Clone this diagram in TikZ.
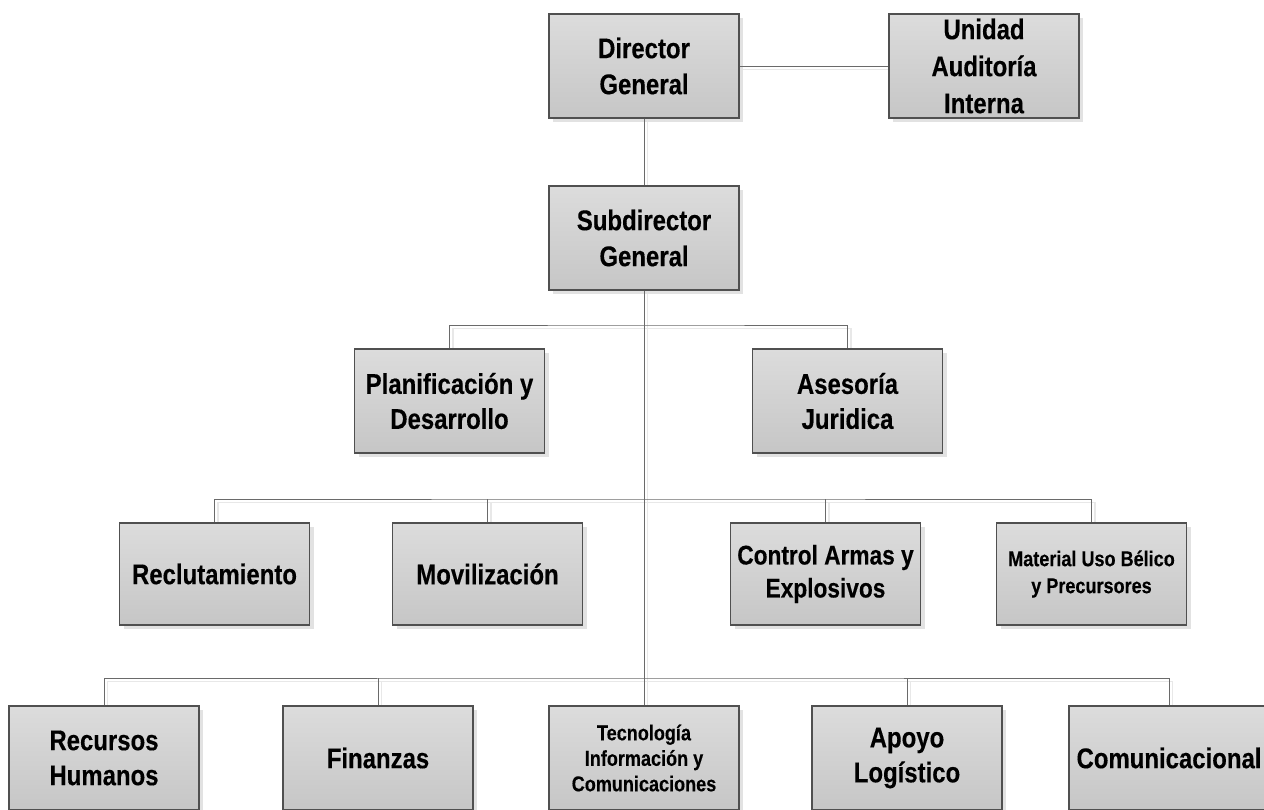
\documentclass[tikz,border=0pt]{standalone}
\usepackage{fontspec}
\setmainfont{Liberation Sans}[FakeStretch=0.84, BoldFeatures={FakeBold=0.3}]
\usetikzlibrary{shadows,backgrounds}
\definecolor{boxline}{HTML}{505050}
\definecolor{boxtop}{HTML}{DCDCDC}
\definecolor{boxbot}{HTML}{C6C6C6}
\definecolor{shadowc}{HTML}{E2E2E2}
\definecolor{connc}{HTML}{6A6A6A}
\definecolor{connsh}{HTML}{E8E8E8}
\tikzset{
  box/.style={draw=boxline, line width=1.1pt, top color=boxtop, bottom color=boxbot,
    minimum width=190pt, minimum height=104pt, inner sep=0pt, align=center,
    font=\bfseries\fontsize{28.5}{36}\selectfont,
    drop shadow={shadow xshift=4pt, shadow yshift=-4pt, fill=shadowc, opacity=1}},
  boxlow/.style={box, minimum height=102pt},
  conn/.style={draw=connc, line width=1pt},
  connshadow/.style={draw=connsh, line width=1.5pt, transform canvas={shift={(3.5pt,-3.5pt)}}}
}
\begin{document}
\begin{tikzpicture}[x=1pt,y=-1pt]
\useasboundingbox (0,0) rectangle (1264,809);
\clip (0,0) rectangle (1264,809);
% boxes
\node[box] (dir) at (644,66) {Director\\General};
\node[box, font=\bfseries\fontsize{28.5}{37}\selectfont] (aud) at (984,66) {Unidad\\Auditoría\\Interna};
\node[box] (sub) at (644,238) {Subdirector\\General};
\node[box, font=\bfseries\fontsize{28.5}{35}\selectfont] (plan) at (449.5,401) {Planificación y\\Desarrollo};
\node[box, font=\bfseries\fontsize{28.5}{35}\selectfont] (ases) at (847.5,401) {Asesoría\\Juridica};
\node[boxlow] (recl) at (214.5,574) {Reclutamiento};
\node[boxlow] (movi) at (487.5,574) {Movilización};
\node[boxlow, font=\bfseries\fontsize{27}{33}\selectfont] (ctrl) at (825.5,574) {Control Armas y\\Explosivos};
\node[boxlow, font=\bfseries\fontsize{21.5}{27}\selectfont] (mat) at (1091.5,574) {Material Uso Bélico\\y Precursores};
\node[box, font=\bfseries\fontsize{28.5}{35}\selectfont] (rrhh) at (104,758) {Recursos\\Humanos};
\node[box] (fin) at (378,758) {Finanzas};
\node[box, font=\bfseries\fontsize{21.5}{25.5}\selectfont] (tec) at (644,758) {Tecnología\\Información y\\Comunicaciones};
\node[box, font=\bfseries\fontsize{28.5}{35}\selectfont] (apoyo) at (907,758) {Apoyo\\Logístico};
\node[box, minimum width=200pt] (com) at (1169,758) {Comunicacional};
% bus points
\coordinate (b3) at (644,325);
\coordinate (b4) at (644,499);
\coordinate (b5) at (644,678);
% connector shadows
\begin{scope}[on background layer]
\fill[white] (0,0) rectangle (1264,809);
\draw[connshadow] (dir) -- (aud);
\draw[connshadow] (dir) -- (sub);
\draw[connshadow] (sub) -- (tec);
\draw[connshadow] (plan.north) |- (b3) -| (ases.north);
\draw[connshadow] (recl.north) |- (b4) -| (mat.north);
\draw[connshadow] (movi.north) -- (movi.north |- b4);
\draw[connshadow] (ctrl.north) -- (ctrl.north |- b4);
\draw[connshadow] (rrhh.north) |- (b5) -| (com.north);
\draw[connshadow] (fin.north) -- (fin.north |- b5);
\draw[connshadow] (apoyo.north) -- (apoyo.north |- b5);
\end{scope}
% connectors
\draw[conn] (dir) -- (aud);
\draw[conn] (dir) -- (sub);
\draw[conn] (sub) -- (tec);
\draw[conn] (plan.north) |- (b3) -| (ases.north);
\draw[conn] (recl.north) |- (b4) -| (mat.north);
\draw[conn] (movi.north) -- (movi.north |- b4);
\draw[conn] (ctrl.north) -- (ctrl.north |- b4);
\draw[conn] (rrhh.north) |- (b5) -| (com.north);
\draw[conn] (fin.north) -- (fin.north |- b5);
\draw[conn] (apoyo.north) -- (apoyo.north |- b5);
\end{tikzpicture}
\end{document}
